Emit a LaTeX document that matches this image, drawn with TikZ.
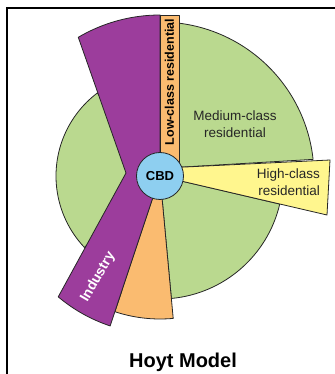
\documentclass[tikz,border=0pt]{standalone}
\usepackage{fontspec}
\setmainfont{Liberation Sans}
\definecolor{zonegreen}{RGB}{186,217,143}
\definecolor{zonepurple}{RGB}{156,61,156}
\definecolor{zoneorange}{RGB}{250,187,112}
\definecolor{zoneyellow}{RGB}{255,246,142}
\definecolor{zoneblue}{RGB}{142,207,240}
\tikzset{
  zone/.style={draw=black!85, line width=0.8pt, line join=round},
  zonetext/.style={font=\fontsize{13.5}{17}\selectfont, text=black!85, align=center, inner sep=0pt},
}
\begin{document}
\begin{tikzpicture}[x=1pt,y=1pt]
  \useasboundingbox (-160,-198) rectangle (174,176);
  \draw[line width=2pt] (-153,-200) -- (-153,168) -- (176,168);

  % green sectors
  \draw[zone, fill=zonegreen] (19,0) -- (82.9:154) arc[start angle=82.9, end angle=6.2, radius=154] -- (15,8.5) -- cycle;
  \draw[zone, fill=zonegreen] (0,0) -- (-13.2:123) arc[start angle=-13.2, end angle=-84.7, radius=123] -- cycle;
  \draw[zone, fill=zonegreen] (0,0) -- (127:104) arc[start angle=127, end angle=223.4, radius=104] -- cycle;

  % orange and purple
  \draw[zone, fill=zoneorange] (0,0) -- (251.6:143) arc[start angle=251.6, end angle=275.3, radius=143] -- cycle;
  \draw[zone, fill=zonepurple] (0,0) -- (0,161) arc[start angle=90, end angle=120.5, radius=161] -- (-34,3)
    -- (229.9:158) arc[start angle=229.9, end angle=251.6, radius=158] -- cycle;
  \draw[zone, fill=zoneorange] (0,0) rectangle (19,161);

  % high class wedge
  \draw[zone, fill=zoneyellow] (15,8.5) -- (170,16) -- (167,-39) -- (15,-3.6) -- cycle;

  \node[circle, zone, fill=zoneblue, minimum size=47pt, inner sep=0pt, font=\bfseries\fontsize{13}{13}\selectfont] (cbd) at (0,0) {CBD};

  \node[rotate=90, inner sep=0pt, font=\bfseries\fontsize{12.5}{12.5}\selectfont] (lowlbl) at (9.5,94) {Low-class residential};
  \node[zonetext] (medlbl) at (75,52) {Medium-class\\residential};
  \node[zonetext, align=right, anchor=east] (highlbl) at (160,-6) {High-class\\residential};
  \node[rotate=60, text=white, inner sep=0pt, font=\bfseries\fontsize{14}{14}\selectfont] (indlbl) at (-62,-101) {Industry};
  \node[font=\bfseries\fontsize{20}{20}\selectfont] (title) at (23,-186) {Hoyt Model};
\end{tikzpicture}
\end{document}
